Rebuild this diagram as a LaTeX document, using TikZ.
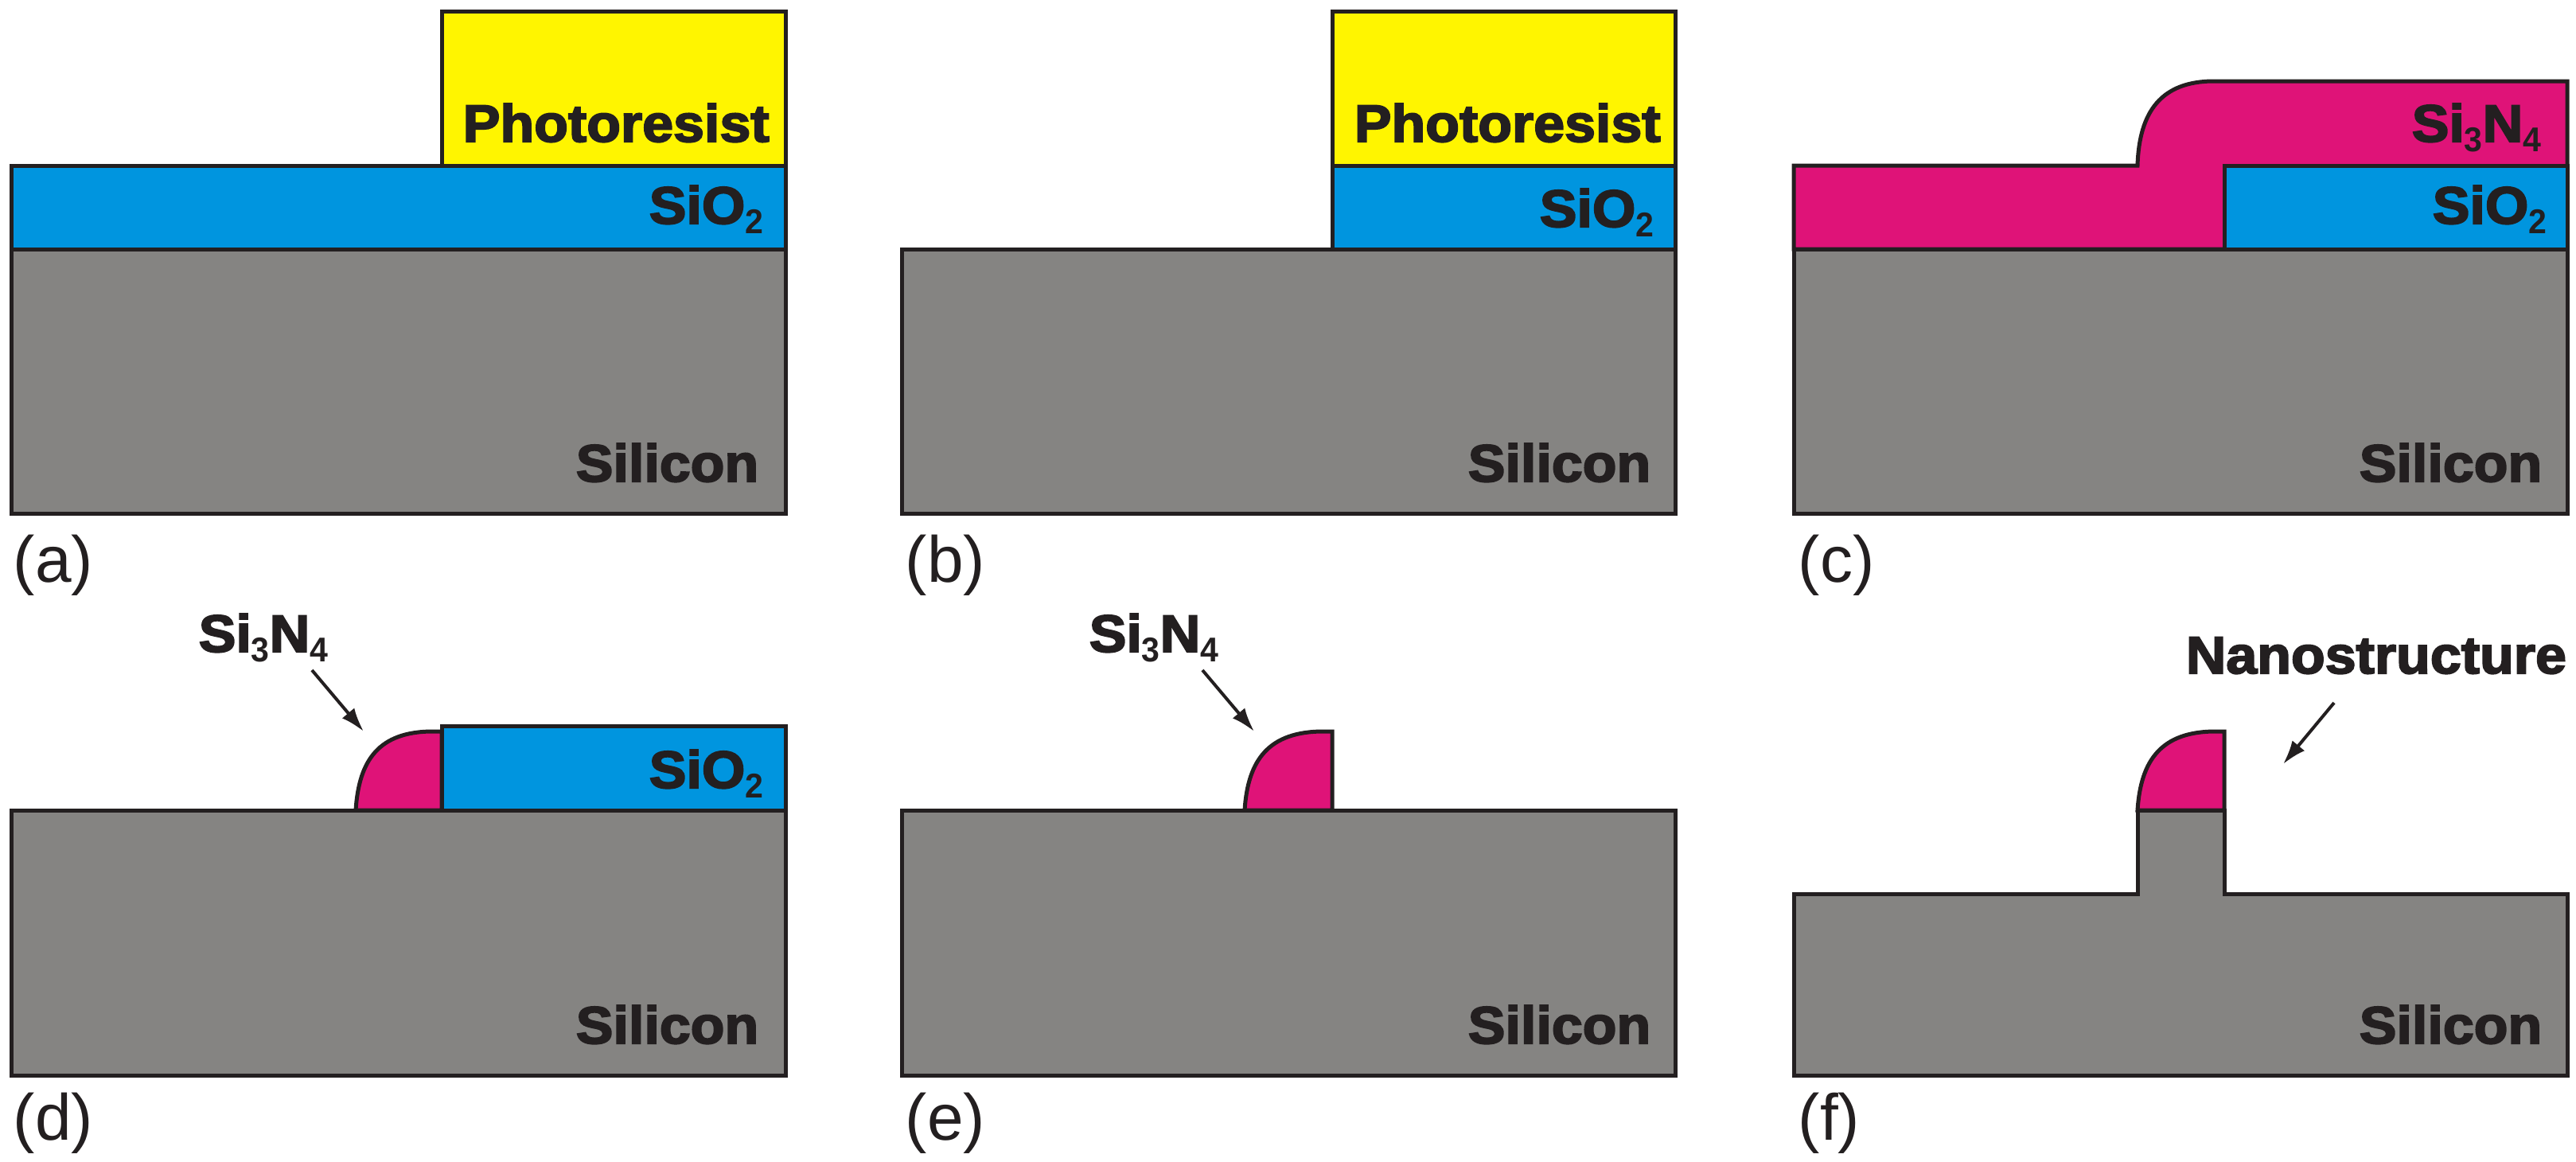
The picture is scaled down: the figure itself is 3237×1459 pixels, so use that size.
\documentclass[tikz,border=0pt]{standalone}
\usepackage{fontspec}
\usetikzlibrary{arrows.meta}
\setmainfont{Liberation Sans}
\newfontfamily\heavyfont[FakeStretch=1.06,BoldFeatures={FakeBold=3}]{Liberation Sans}
\newfontfamily\subfont[FakeStretch=0.95]{Liberation Sans}
\definecolor{inkblack}{HTML}{231F20}
\definecolor{siliconcol}{HTML}{858482}
\definecolor{oxidecol}{HTML}{0095DF}
\definecolor{resistcol}{HTML}{FFF500}
\definecolor{nitridecol}{HTML}{DF1378}
\newcommand{\subnum}[1]{\lower3pt\hbox{\subfont\fontsize{10.8}{11}\selectfont #1}}
\tikzset{
    layer/.style={draw=inkblack,line width=1.25pt,line join=miter},
    silicon/.style={layer,fill=siliconcol},
    oxide/.style={layer,fill=oxidecol},
    resist/.style={layer,fill=resistcol},
    nitride/.style={layer,fill=nitridecol},
    heavy/.style={anchor=base west,inner sep=0pt,text=inkblack,font=\heavyfont\bfseries\fontsize{16.5}{17}\selectfont},
    panel/.style={anchor=base west,inner sep=0pt,text=inkblack,font=\fontsize{20.5}{21}\selectfont},
    pointer/.style={-{Latex[length=7.5pt,width=5pt]},draw=inkblack,line width=1pt}
}
\begin{document}
\begin{tikzpicture}[x=0.25pt,y=-0.25pt]
    \useasboundingbox (0,0) rectangle (3237,1459);

    \draw[resist] (555,14) rectangle (987,208);
    \draw[oxide] (14,208) rectangle (987,313);
    \draw[silicon] (14,313) rectangle (987,645);
    \node[heavy] (Pa) at (581,178) {Photoresist};
    \node[heavy] (Oa) at (815,281) {SiO\subnum{2}};
    \node[heavy] (Sa) at (723,605) {Silicon};
    \node[panel] (La) at (16,731) {(a)};

    \draw[resist] (1674,14) rectangle (2105,208);
    \draw[oxide] (1674,208) rectangle (2105,313);
    \draw[silicon] (1133,313) rectangle (2105,645);
    \node[heavy] (Pb) at (1701,178) {Photoresist};
    \node[heavy] (Ob) at (1934,285) {SiO\subnum{2}};
    \node[heavy] (Sb) at (1844,605) {Silicon};
    \node[panel] (Lb) at (1137,731) {(b)};

    \draw[nitride] (2254,313) -- (2254,208) -- (2686,208)
        .. controls (2688,140) and (2716,102) .. (2782,102)
        -- (3226,102) -- (3226,313) -- cycle;
    \draw[oxide] (2795,208) rectangle (3226,313);
    \draw[silicon] (2254,313) rectangle (3226,645);
    \node[heavy] (Nc) at (3030,178) {Si\subnum{3}N\subnum{4}};
    \node[heavy] (Oc) at (3056,281) {SiO\subnum{2}};
    \node[heavy] (Sc) at (2964,605) {Silicon};
    \node[panel] (Lc) at (2259,731) {(c)};

    \draw[nitride] (447,1018) .. controls (451,955) and (476,919) .. (544,919) -- (555,919) -- (555,1018) -- cycle;
    \draw[oxide] (555,912) rectangle (987,1018);
    \draw[silicon] (14,1018) rectangle (987,1351);
    \node[heavy] (Nd) at (249,819) {Si\subnum{3}N\subnum{4}};
    \node[heavy] (Od) at (815,990) {SiO\subnum{2}};
    \node[heavy] (Sd) at (723,1311) {Silicon};
    \node[panel] (Ld) at (16,1432) {(d)};
    \coordinate (Td) at (392,842);
    \coordinate (Hd) at (457,919);
    \draw[pointer] (Td) -- (Hd);

    \draw[nitride] (1564,1018) .. controls (1568,955) and (1594,919) .. (1663,919) -- (1674,919) -- (1674,1018) -- cycle;
    \draw[silicon] (1133,1018) rectangle (2105,1351);
    \node[heavy] (Ne) at (1368,819) {Si\subnum{3}N\subnum{4}};
    \node[heavy] (Se) at (1844,1311) {Silicon};
    \node[panel] (Le) at (1137,1432) {(e)};
    \coordinate (Te) at (1511,842);
    \coordinate (He) at (1576,919);
    \draw[pointer] (Te) -- (He);

    \draw[nitride] (2686,1018) .. controls (2690,955) and (2716,919) .. (2784,919) -- (2795,919) -- (2795,1018) -- cycle;
    \draw[silicon] (2254,1123) -- (2686,1123) -- (2686,1018) -- (2795,1018) -- (2795,1123) -- (3226,1123) -- (3226,1351) -- (2254,1351) -- cycle;
    \node[heavy] (Nf) at (2746,846) {Nanostructure};
    \node[heavy] (Sf) at (2964,1311) {Silicon};
    \node[panel] (Lf) at (2259,1432) {(f)};
    \coordinate (Tf) at (2933,883);
    \coordinate (Hf) at (2869,960);
    \draw[pointer] (Tf) -- (Hf);
\end{tikzpicture}
\end{document}
